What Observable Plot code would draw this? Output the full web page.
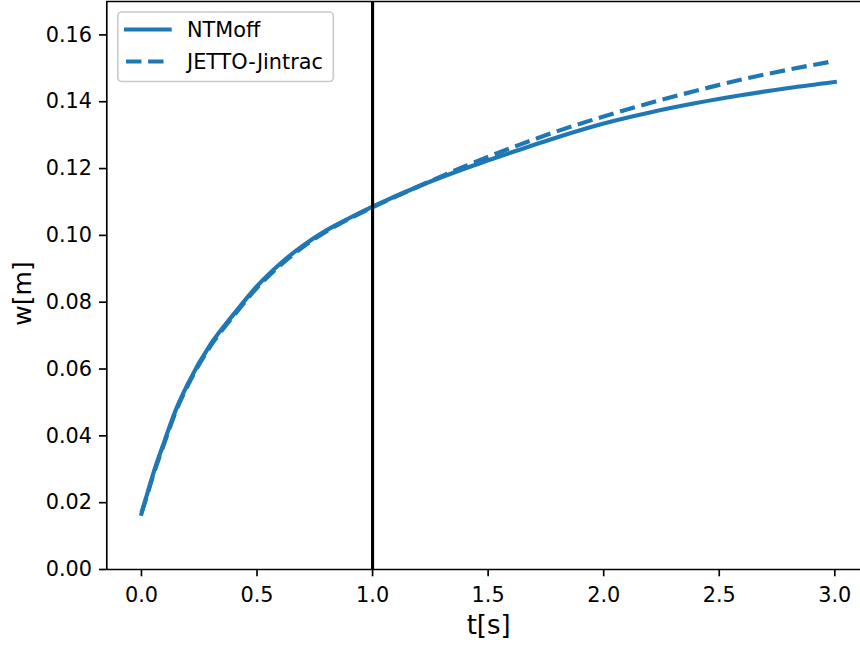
<!DOCTYPE html>
<html><head><meta charset="utf-8">
<script src="https://cdn.jsdelivr.net/npm/d3@7"></script>
<script src="https://cdn.jsdelivr.net/npm/@observablehq/plot@0.6"></script>
<style>
body{margin:0;background:#fff}
#wrap{position:relative;width:860px;height:645px;overflow:hidden}
#wrap svg{display:block}
</style>
</head><body><div id="wrap"></div>
<script>
// data
const tValues = [0, 0.02, 0.05, 0.1, 0.15, 0.2, 0.3, 0.4, 0.5, 0.6, 0.7, 0.8, 0.9, 1.0, 1.2, 1.4, 1.6, 1.8, 2.0, 2.2, 2.4, 2.6, 2.8, 3.0];
const wNTMoff = [0.0167, 0.0215, 0.0285, 0.0385, 0.0480, 0.0555, 0.0675, 0.0765, 0.0848, 0.0915, 0.0970, 0.1015, 0.1052, 0.1086, 0.1147, 0.1200, 0.1248, 0.1294, 0.1335, 0.1368, 0.1396, 0.1420, 0.1441, 0.1459];
const wJETTO = [0.0170, 0.0212, 0.0280, 0.0380, 0.0475, 0.0550, 0.0670, 0.0760, 0.0843, 0.0910, 0.0966, 0.1012, 0.1050, 0.1084, 0.1147, 0.1207, 0.1262, 0.1312, 0.1356, 0.1396, 0.1433, 0.1467, 0.1496, 0.1522];
const seriesNames = ["NTMoff", "JETTO-Jintrac"];
const xTicks = [0, 0.5, 1.0, 1.5, 2.0, 2.5, 3.0];
const yTicks = [0, 0.02, 0.04, 0.06, 0.08, 0.10, 0.12, 0.14, 0.16];
const markerT = [1.0];
const xLabel = "t[s]";
const yLabel = "w[m]";

const blue = "#1f77b4";
const font = "DejaVu Sans";
const lw = 4.17;
const dash = "15.4,6.7";

const ntm = tValues.map((t, i) => ({t, w: wNTMoff[i]}));
const jet = tValues.map((t, i) => ({t, w: wJETTO[i]}));

const W = 860, H = 645, mL = 106.3, mT = 1, mB = 76;
const xPerUnit = 231.1, x0px = 141;
const xMax = (W - x0px) / xPerUnit;

const chart = Plot.plot({
  width: W, height: H,
  marginLeft: mL, marginRight: 0, marginTop: mT, marginBottom: mB,
  style: {fontFamily: font, background: "#fff", color: "#000", overflow: "visible"},
  x: {domain: [-0.15, xMax]},
  y: {domain: [0, 0.17]},
  marks: [
    Plot.line(jet, {x: "t", y: "w", stroke: blue, strokeWidth: lw, strokeDasharray: dash, strokeLinecap: "butt", curve: "monotone-x"}),
    Plot.line(ntm, {x: "t", y: "w", stroke: blue, strokeWidth: lw, strokeLinecap: "square", curve: "monotone-x"}),
    Plot.ruleX(markerT, {stroke: "#000", strokeWidth: 3.1}),
    Plot.ruleX([-0.15], {stroke: "#000", strokeWidth: 1.67}),
    Plot.ruleY([0], {stroke: "#000", strokeWidth: 1.67}),
    Plot.ruleY([0.17], {stroke: "#000", strokeWidth: 1.67}),
    Plot.axisX({ticks: xTicks, tickFormat: d3.format(".1f"), tickSize: 7.3, tickPadding: 10.5, fontSize: 20.8, label: null, strokeWidth: 1.67}),
    Plot.axisY({ticks: yTicks, tickFormat: d3.format(".2f"), tickSize: 7.3, tickPadding: 7.5, fontSize: 20.8, label: null, strokeWidth: 1.67}),
    Plot.text([xLabel], {text: d => d, frameAnchor: "bottom", textAnchor: "middle", dx: 5, dy: 64, fontSize: 26, fill: "#000"}),
    Plot.text([yLabel], {text: d => d, frameAnchor: "left", textAnchor: "middle", rotate: -90, dx: -84, dy: 8, fontSize: 25, fill: "#000"})
  ]
});

const wrap = document.getElementById("wrap");
wrap.appendChild(chart);

// legend overlay (inside axes, as in the reference)
const leg = d3.select(wrap).append("svg")
  .attr("width", 240).attr("height", 100)
  .style("position", "absolute").style("left", "0px").style("top", "0px")
  .style("overflow", "visible").style("font-family", font);
leg.append("rect").attr("x", 117.8).attr("y", 12).attr("width", 215.5).attr("height", 69.5)
  .attr("rx", 4).attr("fill", "rgba(255,255,255,0.8)").attr("stroke", "#cccccc").attr("stroke-width", 1.7);
const styles = [{dash: null, cap: "square"}, {dash: dash, cap: "butt"}];
seriesNames.forEach((name, i) => {
  const yy = 29.5 + i * 32;
  leg.append("line").attr("x1", styles[i].cap === "square" ? 126.1 : 126).attr("x2", styles[i].cap === "square" ? 169.6 : 167.7)
    .attr("y1", yy).attr("y2", yy).attr("stroke", blue).attr("stroke-width", lw)
    .attr("stroke-linecap", styles[i].cap).attr("stroke-dasharray", styles[i].dash);
  leg.append("text").attr("x", 187).attr("y", yy + 7.5).attr("font-size", 20.8).attr("fill", "#000").text(name);
});
</script>
</body></html>
